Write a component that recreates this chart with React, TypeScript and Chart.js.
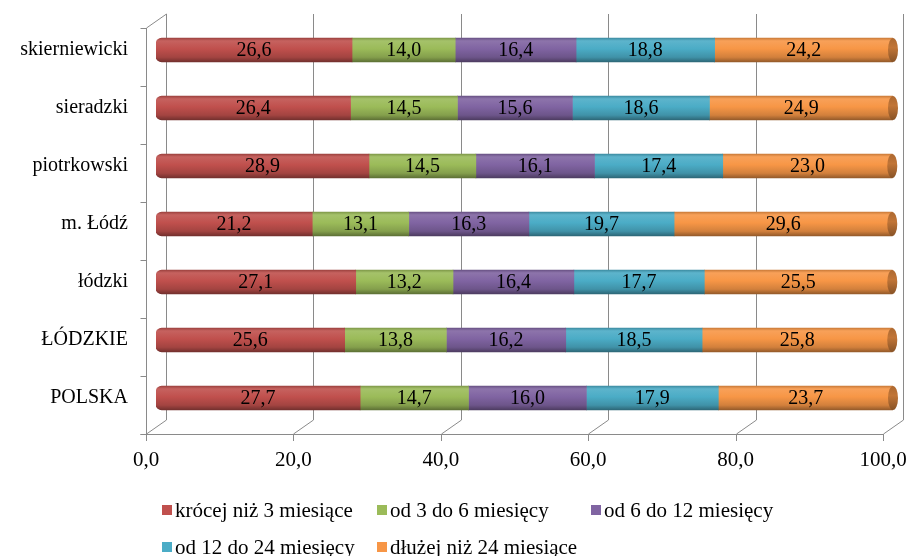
import { useEffect, useRef } from 'react';
import { Chart, registerables } from 'chart.js';

Chart.register(...registerables);

const categories = ['skierniewicki', 'sieradzki', 'piotrkowski', 'm. Łódź', 'łódzki', 'ŁÓDZKIE', 'POLSKA'];
const seriesNames = ['krócej niż 3 miesiące', 'od 3 do 6 miesięcy', 'od 6 do 12 miesięcy', 'od 12 do 24 miesięcy', 'dłużej niż 24 miesiące'];
const under3 = [26.6, 26.4, 28.9, 21.2, 27.1, 25.6, 27.7];
const from3to6 = [14.0, 14.5, 14.5, 13.1, 13.2, 13.8, 14.7];
const from6to12 = [16.4, 15.6, 16.1, 16.3, 16.4, 16.2, 16.0];
const from12to24 = [18.8, 18.6, 17.4, 19.7, 17.7, 18.5, 17.9];
const over24 = [24.2, 24.9, 23.0, 29.6, 25.5, 25.8, 23.7];
const xTicks = [0, 20, 40, 60, 80, 100];
const seriesValues = [under3, from3to6, from6to12, from12to24, over24];
const colors = ['#C0504D', '#9BBB59', '#8064A2', '#4BACC6', '#F79646'];

const FONT = '"Liberation Serif", "Times New Roman", serif';
const BAR_T = 24;
const DX = 10;
const DY = 7;
const GRID = '#8a8a8a';

function shade(hex: string, f: number): string {
  const n = parseInt(hex.slice(1), 16);
  const r = (n >> 16) & 255, g = (n >> 8) & 255, b = n & 255;
  const c = (v: number) => Math.max(0, Math.min(255, Math.round(f >= 1 ? v + (255 - v) * (f - 1) : v * f)));
  return `rgb(${c(r)},${c(g)},${c(b)})`;
}

const fmt = (v: number) => v.toFixed(1).replace('.', ',');

const framePlugin = {
  id: 'frame3d',
  beforeDatasetsDraw(chart: any) {
    const { ctx, chartArea } = chart;
    const xs = chart.scales.x;
    const ys = chart.scales.y;
    const top = chartArea.top, bottom = chartArea.bottom;
    ctx.save();
    ctx.strokeStyle = GRID;
    ctx.lineWidth = 1;
    ctx.beginPath();
    // back wall gridlines + floor diagonals + front ticks
    xTicks.forEach((v) => {
      const px = Math.round(xs.getPixelForValue(v)) + 0.5;
      ctx.moveTo(px + DX, top - DY);
      ctx.lineTo(px + DX, bottom - DY);
      ctx.lineTo(px - DX, bottom + DY);
      ctx.lineTo(px - DX, bottom + DY + 7);
    });
    // front floor line
    const p0 = Math.round(xs.getPixelForValue(0)) + 0.5;
    const p100 = Math.round(xs.getPixelForValue(100)) + 0.5;
    ctx.moveTo(p0 - DX - 6, Math.round(bottom + DY) + 0.5);
    ctx.lineTo(p100 - DX, Math.round(bottom + DY) + 0.5);
    // left wall front line and top diagonal
    ctx.moveTo(p0 - DX, bottom + DY);
    ctx.lineTo(p0 - DX, top + DY);
    ctx.lineTo(p0 + DX, top - DY);
    // category boundary ticks
    const n = categories.length;
    const band = (bottom - top) / n;
    for (let i = 0; i <= n; i++) {
      const y = Math.round(top + i * band + DY) + 0.5;
      ctx.moveTo(p0 - DX - 6, y);
      ctx.lineTo(p0 - DX, y);
    }
    ctx.stroke();
    ctx.restore();
    void ys;
  },
  afterDatasetsDraw(chart: any) {
    const { ctx } = chart;
    ctx.save();
    // right end caps of the cylinder
    const lastIdx = chart.data.datasets.length - 1;
    const lastMeta = chart.getDatasetMeta(lastIdx);
    lastMeta.data.forEach((el: any) => {
      const h = BAR_T / 2;
      const g = ctx.createLinearGradient(0, el.y - h, 0, el.y + h);
      g.addColorStop(0, shade(colors[lastIdx], 0.7));
      g.addColorStop(0.4, shade(colors[lastIdx], 0.78));
      g.addColorStop(1, shade(colors[lastIdx], 0.55));
      ctx.fillStyle = g;
      ctx.beginPath();
      ctx.ellipse(el.x, el.y, 5, h, 0, 0, Math.PI * 2);
      ctx.fill();
    });
    // data labels
    ctx.fillStyle = '#000';
    ctx.font = `20px ${FONT}`;
    ctx.textAlign = 'center';
    ctx.textBaseline = 'middle';
    chart.data.datasets.forEach((ds: any, di: number) => {
      const meta = chart.getDatasetMeta(di);
      meta.data.forEach((el: any, i: number) => {
        const c = el.getCenterPoint();
        ctx.fillText(fmt(ds.data[i]), c.x, c.y + 1);
      });
    });
    ctx.restore();
  },
  afterDraw(chart: any) {
    const { ctx } = chart;
    const colX = [162, 377, 591];
    const rowY = [510, 547];
    ctx.save();
    ctx.font = `21px ${FONT}`;
    ctx.textAlign = 'left';
    ctx.textBaseline = 'middle';
    seriesNames.forEach((name, i) => {
      const x = colX[i % 3];
      const y = rowY[Math.floor(i / 3)];
      ctx.fillStyle = colors[i];
      ctx.fillRect(x, y - 5, 10, 10);
      ctx.fillStyle = '#000';
      ctx.fillText(name, x + 13, y + 1);
    });
    ctx.restore();
  },
};

export default function App() {
  const ref = useRef<HTMLCanvasElement | null>(null);
  useEffect(() => {
    if (!ref.current) return;
    const chart = new Chart(ref.current, {
      type: 'bar',
      data: {
        labels: categories,
        datasets: seriesValues.map((vals, i) => ({
          label: seriesNames[i],
          data: vals,
          barThickness: BAR_T,
          borderWidth: 0,
          borderSkipped: false,
          borderRadius: i === 0 ? { topLeft: 6, bottomLeft: 6, topRight: 0, bottomRight: 0 } : 0,
          backgroundColor: (c: any) => {
            const chart = c.chart;
            const base = colors[i];
            if (!chart.chartArea || c.type !== 'data' || !chart.scales.y) return base;
            const y = chart.scales.y.getPixelForValue(c.dataIndex);
            const h = BAR_T / 2;
            const g = chart.ctx.createLinearGradient(0, y - h, 0, y + h);
            g.addColorStop(0, shade(base, 0.82));
            g.addColorStop(0.12, shade(base, 1.1));
            g.addColorStop(0.45, shade(base, 1.0));
            g.addColorStop(0.8, shade(base, 0.85));
            g.addColorStop(1, shade(base, 0.6));
            return g;
          },
        })),
      },
      options: {
        indexAxis: 'y',
        responsive: false,
        animation: false,
        maintainAspectRatio: false,
        layout: { padding: { left: 8, right: 16, top: 21, bottom: 79 } },
        plugins: {
          legend: { display: false },
          tooltip: { enabled: false },
        },
        scales: {
          x: {
            stacked: true,
            min: 0,
            max: 100,
            grid: { display: false, drawTicks: false },
            border: { display: false },
            afterBuildTicks: (s: any) => {
              s.ticks = xTicks.map((v) => ({ value: v }));
            },
            afterFit: (s: any) => {
              s.height = 50;
              s.paddingLeft = 0;
              s.paddingRight = 0;
            },
            ticks: {
              autoSkip: false,
              maxRotation: 0,
              padding: 21,
              labelOffset: -DX,
              color: '#000',
              font: { family: FONT, size: 21 },
              callback: (v: any) => fmt(Number(v)),
            },
          },
          y: {
            stacked: true,
            grid: { display: false, drawTicks: false },
            border: { display: false },
            afterFit: (s: any) => {
              s.width = 148;
              s.paddingTop = 0;
              s.paddingBottom = 0;
            },
            ticks: {
              padding: 28,
              color: '#000',
              font: { family: FONT, size: 20 },
            },
          },
        },
      },
      plugins: [framePlugin],
    });
    return () => chart.destroy();
  }, []);
  return (
    <div style={{ position: 'fixed', left: 0, top: 0, width: 909, height: 556, background: '#fff' }}>
      <canvas ref={ref} width={909} height={556} style={{ width: 909, height: 556, display: 'block' }} />
    </div>
  );
}
